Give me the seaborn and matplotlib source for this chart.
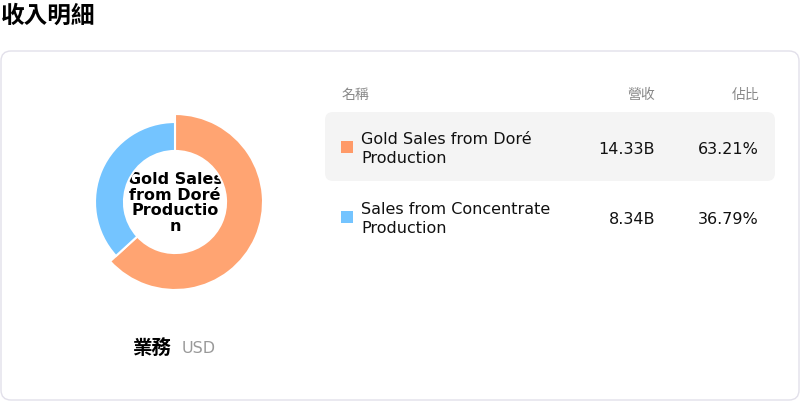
import matplotlib
matplotlib.use('Agg')
import matplotlib.pyplot as plt
from matplotlib.patches import FancyBboxPatch, Rectangle
import seaborn as sns

# Data
segments = ['Gold Sales from Doré Production', 'Sales from Concentrate Production']
name_lines = [['Gold Sales from Doré', 'Production'], ['Sales from Concentrate', 'Production']]
revenue = [14.33, 8.34]  # billions USD
share = [63.21, 36.79]
colors = ['#FFA472', '#74C4FF']
marker_colors = ['#FF9A68', '#74C4FF']
headers = ['名稱', '營收', '佔比']

sns.set_theme(style='white')
plt.rcParams['font.family'] = ['DejaVu Sans', 'Noto Sans CJK TC']
plt.rcParams['text.color'] = 'black'
cjk = ['Noto Sans CJK TC', 'DejaVu Sans']

W, H = 800, 402
fig = plt.figure(figsize=(W / 100, H / 100), dpi=100)

# overlay axes in pixel coords
ax = fig.add_axes([0, 0, 1, 1])
ax.set_xlim(0, W)
ax.set_ylim(H, 0)
ax.axis('off')

ax.text(1, 16, '收入明細', fontsize=17, fontweight='bold', va='center', ha='left',
        family=cjk, color='black')

card = FancyBboxPatch((1, 52), 798, 349, boxstyle='round,pad=0,rounding_size=10',
                      facecolor='white', edgecolor='#e2e0ea', linewidth=1)
ax.add_patch(card)

# donut
cx, cy, R = 175, 203, 88
pax = fig.add_axes([(cx - R) / W, (H - cy - R) / H, 2 * R / W, 2 * R / H])
wedges, _ = pax.pie(revenue, colors=colors, startangle=90, counterclock=False,
                    radius=1, wedgeprops=dict(width=0.42, edgecolor='white', linewidth=1.5))
inner = 1 - 0.42
wedges[1].set_radius(80 / R)
wedges[1].set_width(80 / R - inner)
pax.set_xlim(-1, 1)
pax.set_ylim(-1, 1)
pax.set_aspect('equal')
pax.axis('off')

ax.text(cx, 203, 'Gold Sales\nfrom Doré\nProductio\nn', fontsize=11.5, fontweight='bold',
        ha='center', va='center', linespacing=1.05, color='black', zorder=5)

# bottom label
ax.text(172, 349, '業務', fontsize=14, fontweight='bold', ha='right', va='center',
        family=cjk, color='black')
ax.text(182, 349, 'USD', fontsize=11.5, color='#999999', ha='left', va='center')

# table header
ax.text(342, 95, headers[0], fontsize=10, color='#888888', ha='left', va='center', family=cjk)
ax.text(655, 95, headers[1], fontsize=10, color='#888888', ha='right', va='center', family=cjk)
ax.text(759, 95, headers[2], fontsize=10, color='#888888', ha='right', va='center', family=cjk)

# highlighted first row
hl = FancyBboxPatch((325, 113), 450, 69, boxstyle='round,pad=0,rounding_size=8',
                    facecolor='#f4f4f4', edgecolor='none')
ax.add_patch(hl)

row_y = [148, 218]
for i, name in enumerate(segments):
    y = row_y[i]
    ax.add_patch(Rectangle((341, y - 6), 12, 12, facecolor=marker_colors[i], edgecolor='none'))
    ax.text(361, y - 8, name_lines[i][0], fontsize=11.5, ha='left', va='center', color='#111111')
    ax.text(361, y + 11, name_lines[i][1], fontsize=11.5, ha='left', va='center', color='#111111')
    ax.text(655, y + 2, f'{revenue[i]:.2f}B', fontsize=11.5, ha='right', va='center', color='#111111')
    ax.text(759, y + 2, f'{share[i]:.2f}%', fontsize=11.5, ha='right', va='center', color='#111111')

fig.savefig('out.png', dpi=100)
